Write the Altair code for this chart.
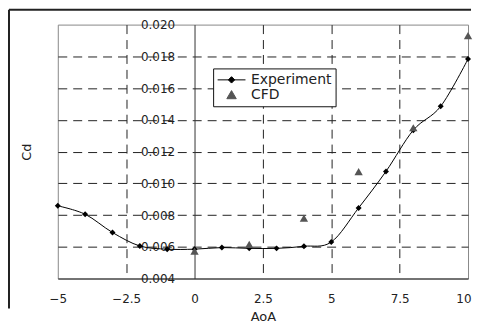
import altair as alt
import pandas as pd

# ---- data ----
aoa_exp = [-5, -4, -3, -2, -1, 0, 1, 2, 3, 4, 5, 6, 7, 8, 9, 10]
cd_exp = [0.00858, 0.00805, 0.00690, 0.00605, 0.00585, 0.00585, 0.00595, 0.00590,
          0.00590, 0.00603, 0.00630, 0.00845, 0.01075, 0.01335, 0.01485, 0.01783]
aoa_cfd = [0, 2, 4, 6, 8, 10]
cd_cfd = [0.00573, 0.00615, 0.00780, 0.01073, 0.01350, 0.01930]
series_names = ["Experiment", "CFD"]
series_colors = ["#000000", "#555555"]
x_ticks = [-5, -2.5, 0, 2.5, 5, 7.5, 10]
y_ticks = [0.004, 0.006, 0.008, 0.010, 0.012, 0.014, 0.016, 0.018, 0.020]

W, H = 412, 255
FONT = "DejaVu Sans"

exp_df = pd.DataFrame({"AoA": aoa_exp, "Cd": cd_exp, "series": "Experiment"})
cfd_df = pd.DataFrame({"AoA": aoa_cfd, "Cd": cd_cfd, "series": "CFD"})
all_df = pd.concat([exp_df, cfd_df], ignore_index=True)

x_scale = alt.Scale(domain=[-5, 10], nice=False, zero=False)
y_scale = alt.Scale(domain=[0.004, 0.020], nice=False, zero=False)

x_axis = alt.Axis(
    values=x_ticks, format=".1~f", title="AoA", grid=True, ticks=False, labelFlush=False,
    labelAlign={"condition": {"test": "datum.value == 10", "value": "right"}, "value": "center"},
    labelOffset={"condition": {"test": "datum.value == 10", "value": 3}, "value": 0},
    gridColor="#222", gridWidth=1, gridDash=[9, 6],
    gridOpacity={"condition": {"test": "datum.value == -5 || datum.value == 0 || datum.value == 10",
                               "value": 0}, "value": 1},
    domainColor="#222", domainWidth=1,
    labelFont=FONT, labelFontSize=12, labelColor="#222", labelPadding=15,
    titleFont=FONT, titleFontSize=13, titleColor="#222", titleFontWeight="normal",
    titlePadding=6,
)
y_axis = alt.Axis(
    values=y_ticks, format=".3f", title="Cd", grid=True, ticks=False,
    gridColor="#222", gridWidth=1, gridDash=[9, 6],
    gridOpacity={"condition": {"test": "datum.value < 0.0045 || datum.value > 0.0195",
                               "value": 0}, "value": 1},
    domainColor="#333", domainWidth=1,
    offset=-W * 5 / 15,
    labelFont=FONT, labelFontSize=12, labelColor="#222", labelPadding=20,
    titleFont=FONT, titleFontSize=13, titleColor="#222", titleFontWeight="normal",
    titleX=-(W * 5 / 15 + 31), titleY=H / 2, titleBaseline="middle", titleAlign="center",
)

x_enc = alt.X("AoA:Q", scale=x_scale, axis=x_axis)
y_enc = alt.Y("Cd:Q", scale=y_scale, axis=y_axis)

line = alt.Chart(exp_df).mark_line(color="black", strokeWidth=1, interpolate="cardinal").encode(
    x=x_enc, y=y_enc
)
exp_pts = alt.Chart(exp_df).mark_point(shape="diamond", filled=True, size=36, color="black", opacity=1).encode(
    x=x_enc, y=y_enc
)
cfd_pts = alt.Chart(cfd_df).mark_point(shape="triangle-up", filled=True, size=70, color="#555555", opacity=1).encode(
    x=x_enc, y=y_enc
)

path_exp = "M-1,0L1,0M0,-0.23L0.23,0L0,0.23L-0.23,0Z"
path_cfd = "M0,-0.3L0.34,0.28L-0.34,0.28Z"
legend = alt.Legend(
    title=None, orient="none", legendX=156, legendY=44,
    strokeColor="#111", fillColor="white", padding=4,
    symbolSize=784, clipHeight=15, rowPadding=0,
    symbolStrokeWidth=1, symbolOpacity=1,
    labelFont=FONT, labelFontSize=14, labelColor="#222", labelOffset=5,
)
legend_layer = alt.Chart(all_df).mark_point(filled=True, opacity=0).encode(
    x=x_enc, y=y_enc,
    shape=alt.Shape("series:N", scale=alt.Scale(domain=series_names, range=[path_exp, path_cfd]), legend=legend),
    fill=alt.Fill("series:N", scale=alt.Scale(domain=series_names, range=series_colors), legend=legend),
    stroke=alt.Stroke("series:N", scale=alt.Scale(domain=series_names, range=series_colors), legend=legend),
)

frame_df = pd.DataFrame({"k": [0]})
frame_top = alt.Chart(frame_df).mark_rule(color="#222", strokeWidth=2).encode(
    x=alt.value(-49), x2=alt.value(415), y=alt.value(-15)
)
frame_left = alt.Chart(frame_df).mark_rule(color="#222", strokeWidth=2).encode(
    x=alt.value(-49), y=alt.value(-15), y2=alt.value(285)
)

chart = alt.layer(frame_top, frame_left, line, exp_pts, cfd_pts, legend_layer).properties(
    width=W, height=H, padding=0, background="white"
).configure_view(stroke="#888888", strokeWidth=1)

chart.save("out.html", embed_options={"renderer": "svg", "actions": False})
